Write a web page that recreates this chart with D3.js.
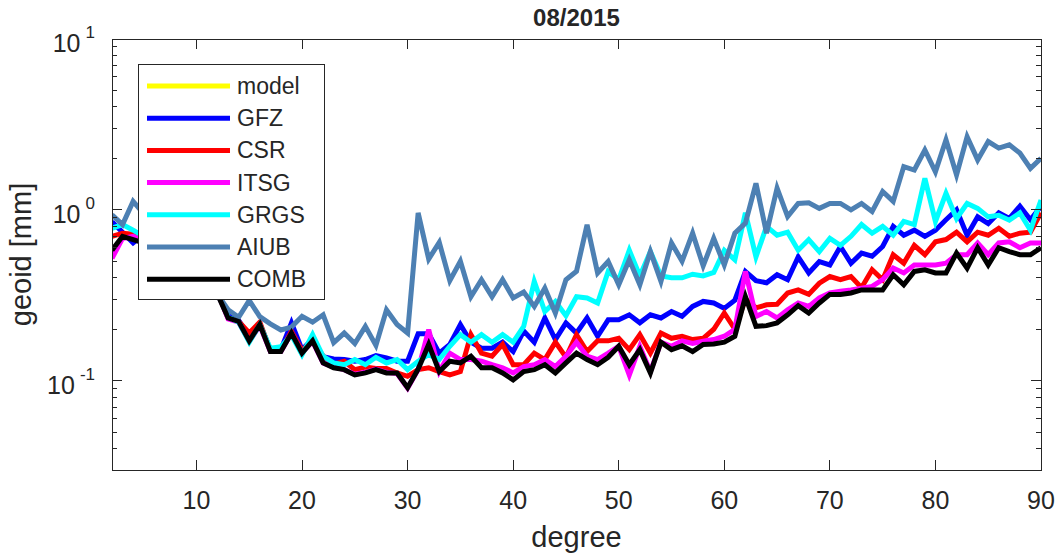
<!DOCTYPE html>
<html>
<head>
<meta charset="utf-8">
<script src="https://cdn.jsdelivr.net/npm/d3@7"></script>
<style>
body{margin:0;background:#fff;}
text{font-family:"Liberation Sans",Arial,sans-serif;fill:#262626;}
</style>
</head>
<body>
<div id="plot"></div>
<script>
// degrees 2..90
var degrees = d3.range(2, 91);

var seriesNames = ['model','GFZ','CSR','ITSG','GRGS','AIUB','COMB'];
var seriesColors = ['#ffff00','#0000ff','#ff0000','#ff00ff','#00ffff','#4d80b3','#000000'];

var model = [];

var gfz = [0.85,0.74,0.64,0.72,0.6,0.55,0.5,0.45,0.42,0.37,
	0.32,0.243,0.225,0.18,0.215,0.152,0.152,0.218,0.152,0.175,
	0.138,0.134,0.133,0.13,0.133,0.14,0.136,0.13,0.13,0.188,
	0.188,0.145,0.163,0.213,0.168,0.155,0.155,0.168,0.148,0.195,
	0.168,0.233,0.174,0.218,0.19,0.233,0.182,0.227,0.227,0.243,
	0.218,0.243,0.233,0.254,0.238,0.272,0.291,0.285,0.265,0.296,
	0.436,0.385,0.374,0.417,0.39,0.53,0.427,0.498,0.476,0.61,
	0.487,0.558,0.535,0.61,0.80,0.71,0.76,0.70,0.76,0.875,
	1.0,0.71,0.91,0.83,0.96,0.89,1.05,0.875,1.05];

var csr = [0.70,0.73,0.72,0.68,0.62,0.58,0.52,0.48,0.43,0.38,
	0.33,0.233,0.222,0.19,0.22,0.15,0.15,0.195,0.15,0.172,
	0.139,0.125,0.13,0.116,0.12,0.118,0.118,0.111,0.106,0.116,
	0.119,0.113,0.108,0.113,0.186,0.145,0.139,0.163,0.124,0.124,
	0.145,0.133,0.168,0.137,0.186,0.148,0.171,0.171,0.177,0.152,
	0.186,0.145,0.19,0.177,0.182,0.174,0.177,0.2,0.249,0.2,
	0.30,0.267,0.278,0.28,0.326,0.34,0.32,0.372,0.407,0.39,
	0.407,0.35,0.446,0.39,0.546,0.487,0.62,0.546,0.65,0.67,
	0.74,0.65,0.74,0.71,0.78,0.70,0.73,0.74,0.96];

var itsg = [0.52,0.68,0.70,0.66,0.6,0.55,0.5,0.46,0.41,0.37,
	0.33,0.23,0.22,0.17,0.21,0.148,0.148,0.19,0.146,0.17,
	0.127,0.12,0.116,0.109,0.112,0.117,0.112,0.11,0.0905,0.116,
	0.199,0.113,0.145,0.133,0.133,0.13,0.124,0.119,0.111,0.121,
	0.124,0.133,0.121,0.139,0.168,0.139,0.133,0.145,0.159,0.108,
	0.159,0.113,0.168,0.159,0.171,0.165,0.17,0.174,0.182,0.2,
	0.436,0.238,0.254,0.233,0.26,0.285,0.272,0.305,0.326,0.334,
	0.34,0.348,0.356,0.39,0.456,0.427,0.476,0.476,0.476,0.487,
	0.546,0.546,0.64,0.546,0.64,0.65,0.60,0.64,0.64];

var grgs = [0.78,0.82,0.76,0.7,0.64,0.58,0.52,0.47,0.43,0.38,
	0.33,0.236,0.22,0.168,0.213,0.155,0.158,0.185,0.142,0.186,
	0.139,0.127,0.124,0.133,0.124,0.137,0.127,0.133,0.116,0.13,
	0.142,0.133,0.159,0.186,0.168,0.186,0.168,0.186,0.168,0.208,
	0.381,0.254,0.291,0.24,0.31,0.305,0.285,0.436,0.39,0.58,
	0.41,0.57,0.41,0.40,0.40,0.42,0.41,0.43,0.58,0.51,
	0.96,0.53,0.80,0.71,0.74,0.58,0.67,0.57,0.68,0.62,
	0.70,0.82,0.73,0.80,0.71,0.855,0.82,1.53,0.855,1.25,
	0.89,1.09,1.02,0.91,0.93,0.87,0.96,0.76,1.14];

var aiub = [0.935,0.82,1.12,0.95,0.85,0.75,0.65,0.55,0.47,0.4,
	0.32,0.26,0.235,0.295,0.237,0.215,0.198,0.206,0.238,0.22,
	0.243,0.167,0.19,0.165,0.208,0.161,0.26,0.213,0.19,0.96,
	0.515,0.645,0.385,0.50,0.31,0.39,0.31,0.39,0.305,0.33,
	0.272,0.348,0.249,0.39,0.437,0.817,0.427,0.498,0.364,0.51,
	0.364,0.57,0.381,0.64,0.50,0.73,0.47,0.68,0.476,0.73,
	0.836,1.43,0.73,1.34,0.914,1.09,1.1,1.02,1.09,1.09,
	1.0,1.09,0.977,1.28,1.12,1.79,1.71,2.24,1.67,2.57,
	1.60,2.68,1.96,2.51,2.30,2.40,2.15,1.75,2.0];

var comb = [0.58,0.70,0.67,0.64,0.58,0.53,0.48,0.44,0.4,0.36,
	0.32,0.233,0.222,0.171,0.213,0.148,0.148,0.19,0.145,0.171,
	0.127,0.119,0.116,0.108,0.111,0.116,0.111,0.111,0.091,0.117,
	0.163,0.113,0.13,0.127,0.139,0.119,0.119,0.111,0.101,0.113,
	0.116,0.124,0.111,0.127,0.145,0.133,0.124,0.137,0.159,0.124,
	0.152,0.111,0.168,0.152,0.16,0.148,0.163,0.164,0.168,0.182,
	0.31,0.208,0.21,0.218,0.243,0.275,0.249,0.285,0.32,0.32,
	0.326,0.34,0.34,0.34,0.417,0.364,0.436,0.446,0.427,0.427,
	0.558,0.456,0.60,0.476,0.60,0.57,0.546,0.546,0.60];

var seriesValues = [model,gfz,csr,itsg,grgs,aiub,comb];

var xTicks = [10,20,30,40,50,60,70,80,90];
var yTicks = [0.1,1,10];
var yExps = ['-1','0','1'];

var W = 1056, H = 556;
var margin = {t:39,r:15,b:86,l:112};
var width = 1041-margin.l, height = 470-margin.t;

var svg = d3.select('#plot').append('svg')
	.attr('width',W).attr('height',H);

var x = d3.scaleLinear().domain([2,90]).range([0,width]);
var y = d3.scaleLog().domain([0.03,10]).range([height,0]);

var plot = svg.append('g')
	.attr('transform','translate('+margin.l+','+margin.t+')');

plot.append('clipPath').attr('id','clip')
	.append('rect').attr('width',width).attr('height',height);

var line = d3.line()
	.x(function(d){return x(d[0]);})
	.y(function(d){return y(d[1]);});

var lines = plot.append('g').attr('clip-path','url(#clip)');
seriesValues.forEach(function(vals,i){
	if(!vals.length) return;
	var pts = vals.map(function(v,j){return [degrees[j],v];});
	lines.append('path')
		.datum(pts)
		.attr('d',line)
		.attr('fill','none')
		.attr('stroke',seriesColors[i])
		.attr('stroke-width',5)
		.attr('stroke-miterlimit',4);
});

// minor ticks for the log axis
var minor = [];
[0.01,0.1,1].forEach(function(b){
	for(var k=2;k<10;k++){ if(b*k>=0.03 && b*k<10) minor.push(b*k); }
});

var axisCol = '#262626';
var ax = plot.append('g').attr('stroke',axisCol).attr('stroke-width',1).attr('shape-rendering','crispEdges');
ax.append('rect').attr('x',0).attr('y',0).attr('width',width).attr('height',height).attr('fill','none');

xTicks.forEach(function(t){
	ax.append('line').attr('x1',x(t)).attr('x2',x(t)).attr('y1',height).attr('y2',height-10);
	ax.append('line').attr('x1',x(t)).attr('x2',x(t)).attr('y1',0).attr('y2',10);
});
yTicks.forEach(function(t){
	ax.append('line').attr('x1',0).attr('x2',10).attr('y1',y(t)).attr('y2',y(t));
	ax.append('line').attr('x1',width).attr('x2',width-10).attr('y1',y(t)).attr('y2',y(t));
});
minor.forEach(function(t){
	ax.append('line').attr('x1',0).attr('x2',5).attr('y1',y(t)).attr('y2',y(t));
	ax.append('line').attr('x1',width).attr('x2',width-5).attr('y1',y(t)).attr('y2',y(t));
});

// tick labels
xTicks.forEach(function(t){
	plot.append('text')
		.attr('x',x(t)).attr('y',height+39)
		.attr('text-anchor','middle')
		.style('font-size','25px')
		.text(t);
});
yTicks.forEach(function(t,i){
	var ex = plot.append('text')
		.attr('x',-17).attr('y',y(t)-1)
		.attr('text-anchor','end')
		.style('font-size','17px')
		.text(yExps[i]);
	var w = ex.node().getComputedTextLength();
	plot.append('text')
		.attr('x',-17-w-5).attr('y',y(t)+13)
		.attr('text-anchor','end')
		.style('font-size','25px')
		.text('10');
});

// title and axis labels
svg.append('text')
	.attr('x',margin.l+width/2).attr('y',26)
	.attr('text-anchor','middle')
	.style('font-size','24px').style('font-weight','bold')
	.text('08/2015');

svg.append('text')
	.attr('x',margin.l+width/2).attr('y',547)
	.attr('text-anchor','middle')
	.style('font-size','29px')
	.text('degree');

svg.append('text')
	.attr('transform','translate(31,'+(margin.t+height/2)+') rotate(-90)')
	.attr('text-anchor','middle')
	.style('font-size','29px')
	.text('geoid [mm]');

// legend
var lg = svg.append('g').attr('transform','translate(138,64)');
lg.append('rect').attr('x',0.5).attr('y',0.5).attr('width',186).attr('height',235)
	.attr('fill','#fff').attr('stroke',axisCol).attr('stroke-width',1);
seriesNames.forEach(function(n,i){
	var cy = 22 + i*32.2;
	lg.append('line').attr('x1',9).attr('x2',92).attr('y1',cy).attr('y2',cy)
		.attr('stroke',seriesColors[i]).attr('stroke-width',5);
	lg.append('text').attr('x',99).attr('y',cy+8)
		.style('font-size','23px').text(n);
});
</script>
</body>
</html>
